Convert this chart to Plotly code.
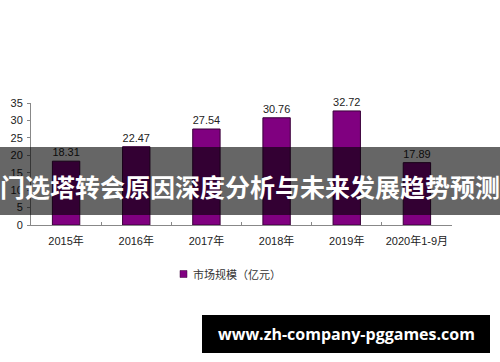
import plotly.graph_objects as go

categories = ["2015年", "2016年", "2017年", "2018年", "2019年", "2020年1-9月"]
values = [18.31, 22.47, 27.54, 30.76, 32.72, 17.89]
value_labels = ["18.31", "22.47", "27.54", "30.76", "32.72", "17.89"]
series_name = "市场规模（亿元）"
banner_title = "门选塔转会原因深度分析与未来发展趋势预测"
watermark = "www.zh-company-pggames.com"
y_ticks = [0, 5, 10, 15, 20, 25, 30, 35]

W, H = 500, 362
L, R, T, B = 31, 48, 103, 137
pw = W - L - R
ph = H - T - B

def px_x(x):
    return (x - L) / pw

def px_y(y):
    return (H - B - y) / ph

FONT = "Liberation Sans, Arial, Noto Sans CJK SC, sans-serif"

fig = go.Figure()
fig.add_trace(go.Bar(
    x=categories, y=values, text=value_labels, textposition="outside",
    textfont=dict(size=11, color="#222222", family=FONT),
    marker=dict(color="#800080", line=dict(color="#3a003a", width=1)),
    width=0.39, showlegend=False, cliponaxis=False,
))

fig.update_layout(
    width=W, height=H,
    margin=dict(l=L, r=R, t=T, b=B),
    paper_bgcolor="white", plot_bgcolor="white",
    font=dict(family=FONT, size=11, color="#222222"),
    xaxis=dict(
        showline=True, linecolor="#888888", linewidth=1, tickangle=0,
        ticks="inside", ticklen=3, tickcolor="#888888", tickson="boundaries",
        tickfont=dict(size=11, color="#222222"), showgrid=False,
        ticklabelstandoff=6,
    ),
    yaxis=dict(
        range=[0, 35], tickvals=y_ticks, showline=True, linecolor="#888888",
        linewidth=1, ticks="outside", ticklen=3, tickcolor="#888888",
        showgrid=False, zeroline=False, tickfont=dict(size=11, color="#222222"),
        ticklabelstandoff=2,
    ),
    bargap=0.61,
)

# legend (manual)
fig.add_shape(type="rect", xref="paper", yref="paper",
              x0=px_x(180), x1=px_x(187), y0=px_y(277.5), y1=px_y(270.5),
              fillcolor="#800080", line=dict(color="#3a003a", width=0.5))
fig.add_annotation(xref="paper", yref="paper", x=px_x(191), y=px_y(274),
                   xanchor="left", yanchor="middle", showarrow=False,
                   text=series_name, font=dict(size=11, color="#333333",
                   family="Noto Sans CJK SC, sans-serif"))

# banner overlay
fig.add_shape(type="rect", xref="paper", yref="paper", layer="above",
              x0=px_x(0), x1=px_x(500), y0=px_y(215), y1=px_y(147),
              fillcolor="rgba(0,0,0,0.6)", line=dict(width=0))
fig.add_annotation(xref="paper", yref="paper", x=px_x(250), y=px_y(186),
                   xanchor="center", yanchor="middle", showarrow=False,
                   text="<b>" + banner_title + "</b>",
                   font=dict(size=25, color="white", family="Noto Sans CJK SC, sans-serif"))

# watermark box
fig.add_shape(type="rect", xref="paper", yref="paper", layer="above",
              x0=px_x(202), x1=px_x(490), y0=px_y(353), y1=px_y(315),
              fillcolor="black", line=dict(width=0))
fig.add_annotation(xref="paper", yref="paper", x=px_x(346), y=px_y(334),
                   xanchor="center", yanchor="middle", showarrow=False,
                   text="<b>" + watermark + "</b>",
                   font=dict(size=16, color="white", family="Open Sans, Noto Sans, sans-serif"))

fig.write_html("out.html")
